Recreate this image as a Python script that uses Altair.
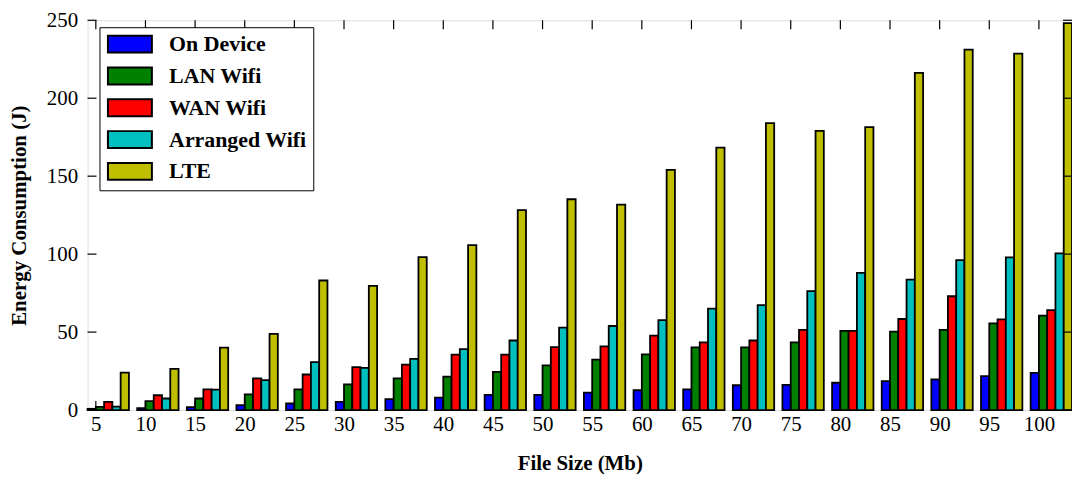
import altair as alt
import pandas as pd

sizes = [5, 10, 15, 20, 25, 30, 35, 40, 45, 50, 55, 60, 65, 70, 75, 80, 85, 90, 95, 100]
series_names = ["On Device", "LAN Wifi", "WAN Wifi", "Arranged Wifi", "LTE"]
series_colors = ["#0000ff", "#008000", "#ff0000", "#00bfbf", "#bfbf00"]

on_device = [0.8, 1.3, 1.9, 3.2, 4.2, 5.3, 7.0, 8.0, 9.7, 9.7, 11.2, 12.7, 13.3, 15.9, 16.1, 17.5, 18.6, 19.7, 21.8, 23.9]
lan_wifi = [2.0, 5.7, 7.4, 10.1, 13.3, 16.5, 20.3, 21.4, 24.5, 28.6, 32.4, 35.7, 40.2, 40.2, 43.4, 50.8, 50.3, 51.4, 55.6, 60.5]
wan_wifi = [5.3, 9.5, 13.3, 20.3, 22.8, 27.5, 29.2, 35.5, 35.5, 40.4, 40.8, 47.8, 43.4, 44.6, 51.4, 50.8, 58.4, 73.0, 58.2, 64.1]
arranged_wifi = [2.2, 7.4, 13.1, 19.2, 30.7, 27.1, 32.8, 39.1, 44.6, 52.9, 53.9, 57.7, 65.1, 67.3, 76.3, 88.0, 83.6, 96.2, 97.9, 100.5]
lte = [24.0, 26.4, 40.0, 48.9, 83.1, 79.7, 98.1, 105.8, 128.2, 135.2, 131.8, 154.0, 168.3, 184.0, 179.1, 181.5, 216.2, 231.2, 228.6, 248.1]

y_ticks = [0, 50, 100, 150, 200, 250]

all_series = [on_device, lan_wifi, wan_wifi, arranged_wifi, lte]
rows = []
for si, (name, vals) in enumerate(zip(series_names, all_series)):
    for s, v in zip(sizes, vals):
        rows.append({"size": s, "series": name, "idx": si, "value": v})
df = pd.DataFrame(rows)

W, H = 990, 392
FONT = "Liberation Serif"
bw = 5 / 6  # bar width in file-size units

xscale = alt.Scale(domain=[sizes[0] - bw, sizes[-1] + 4 * bw], nice=False, zero=False)
yscale = alt.Scale(domain=[0, 250], nice=False)

xaxis = alt.Axis(values=sizes, title="File Size (Mb)", grid=False, ticks=False, tickSize=0,
                 domain=False, labelFont=FONT, labelFontSize=21, labelColor="black",
                 labelPadding=4, labelFlush=False,
                 titleFont=FONT, titleFontSize=21, titleFontWeight="bold",
                 titleColor="black", titlePadding=18)
yaxis = alt.Axis(values=y_ticks, title="Energy Consumption (J)", grid=False, ticks=False,
                 tickSize=0, domain=False, labelFont=FONT, labelFontSize=21,
                 labelColor="black", labelPadding=10, labelFlush=False,
                 titleFont=FONT, titleFontSize=21, titleFontWeight="bold",
                 titleColor="black", titlePadding=17)

bars = alt.Chart(df).transform_calculate(
    x0=f"datum.size + (datum.idx - 1) * {bw}",
    x1=f"datum.size + datum.idx * {bw}",
    base="0",
).mark_bar(stroke="black", strokeWidth=1.8, opacity=1).encode(
    x=alt.X("x0:Q", scale=xscale, axis=xaxis, title="File Size (Mb)"),
    x2="x1:Q",
    y=alt.Y("value:Q", scale=yscale, axis=yaxis, title="Energy Consumption (J)"),
    y2="base:Q",
    color=alt.Color("series:N", scale=alt.Scale(domain=series_names, range=series_colors),
                    sort=series_names,
                    legend=alt.Legend(orient="none", legendX=12, legendY=7, title=None,
                                      symbolType="M-1,-1H4.2V1H-1Z", symbolSize=289,
                                      symbolStrokeColor="black", symbolStrokeWidth=2,
                                      symbolOpacity=1, labelOffset=42, rowPadding=6,
                                      padding=6, strokeColor="black",
                                      fillColor="white", cornerRadius=0,
                                      labelFont=FONT, labelFontSize=22, labelFontWeight="bold",
                                      labelColor="black", labelLimit=400)),
)

xt = pd.DataFrame({"t": sizes})
yt = pd.DataFrame({"t": y_ticks})

tick_bottom = alt.Chart(xt).mark_rule(color="black", strokeWidth=1.2).encode(
    x=alt.X("t:Q", scale=xscale, axis=xaxis, title="File Size (Mb)"),
    y=alt.value(H), y2=alt.value(H - 9))
tick_top = alt.Chart(xt).mark_rule(color="black", strokeWidth=1.2).encode(
    x=alt.X("t:Q", scale=xscale, axis=xaxis, title="File Size (Mb)"),
    y=alt.value(0), y2=alt.value(9))
tick_left = alt.Chart(yt).mark_rule(color="black", strokeWidth=1.2).encode(
    y=alt.Y("t:Q", scale=yscale, axis=yaxis, title="Energy Consumption (J)"),
    x=alt.value(0), x2=alt.value(9))
tick_right = alt.Chart(yt).mark_rule(color="black", strokeWidth=1.2).encode(
    y=alt.Y("t:Q", scale=yscale, axis=yaxis, title="Energy Consumption (J)"),
    x=alt.value(W), x2=alt.value(W - 9))

chart = alt.layer(bars, tick_bottom, tick_top, tick_left, tick_right).properties(
    width=W, height=H,
    autosize=alt.AutoSizeParams(type="none"),
    padding={"left": 80, "top": 11, "right": 0, "bottom": 66},
).configure_view(stroke="black", strokeWidth=2).configure_legend(
    strokeWidth=2
).configure_axis(
    labelFont=FONT, titleFont=FONT, labelColor="black", titleColor="black"
).configure(background="white", font=FONT)

chart.save("out.html", embed_options={"renderer": "svg", "actions": False})
